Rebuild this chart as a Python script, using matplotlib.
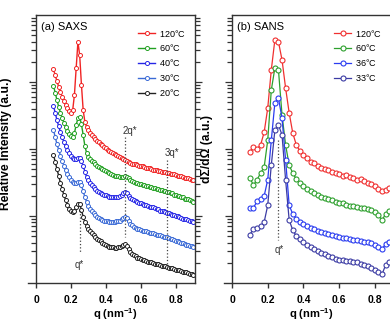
import numpy as np
import matplotlib
matplotlib.use("Agg")
import matplotlib.pyplot as plt
from matplotlib.ticker import LogLocator, NullFormatter, FixedLocator

plt.rcParams['font.family'] = ['Liberation Sans', 'DejaVu Sans']
plt.rcParams['mathtext.fontset'] = 'custom'
plt.rcParams['mathtext.rm'] = 'Liberation Sans'
plt.rcParams['mathtext.bf'] = 'Liberation Sans:bold'

# ---- SAXS data (log10 of relative intensity, a.u.) ----
q_saxs = [0.10, 0.11, 0.12, 0.13, 0.14, 0.15, 0.16, 0.17, 0.18, 0.19,
          0.20, 0.21, 0.22, 0.23, 0.24, 0.25, 0.26, 0.27, 0.28, 0.29,
          0.30, 0.31, 0.32, 0.33, 0.34, 0.35, 0.36, 0.37, 0.38, 0.39,
          0.40, 0.41, 0.42, 0.43, 0.44, 0.45, 0.46, 0.47, 0.48, 0.49,
          0.50, 0.51, 0.52, 0.53, 0.54, 0.55, 0.56, 0.57, 0.58, 0.59,
          0.60, 0.61, 0.62, 0.63, 0.64, 0.65, 0.66, 0.67, 0.68, 0.69,
          0.70, 0.71, 0.72, 0.73, 0.74, 0.75, 0.76, 0.77, 0.78, 0.79,
          0.80, 0.81, 0.82, 0.83, 0.84, 0.85, 0.86, 0.87, 0.88, 0.89, 0.90]
saxs_120 = [3.19, 3.10, 3.01, 2.93, 2.85, 2.78, 2.72, 2.66, 2.61, 2.57,
            2.54, 2.58, 2.81, 3.21, 3.60, 3.40, 2.96, 2.58, 2.40, 2.33,
            2.28, 2.24, 2.21, 2.18, 2.15, 2.12, 2.10, 2.08, 2.06, 2.03,
            2.01, 1.99, 1.97, 1.95, 1.94, 1.92, 1.91, 1.89, 1.88, 1.86,
            1.85, 1.84, 1.82, 1.81, 1.79, 1.78, 1.78, 1.77, 1.76, 1.75,
            1.75, 1.74, 1.73, 1.72, 1.72, 1.71, 1.70, 1.69, 1.69, 1.68,
            1.67, 1.67, 1.66, 1.66, 1.65, 1.64, 1.64, 1.63, 1.63, 1.62,
            1.61, 1.60, 1.60, 1.59, 1.58, 1.57, 1.57, 1.56, 1.55, 1.54, 1.54]
saxs_60 = [2.94, 2.84, 2.73, 2.63, 2.54, 2.46, 2.39, 2.33, 2.27, 2.22,
           2.19, 2.18, 2.24, 2.36, 2.46, 2.48, 2.37, 2.21, 2.04, 1.94,
           1.88, 1.85, 1.82, 1.80, 1.78, 1.75, 1.73, 1.71, 1.70, 1.68,
           1.67, 1.65, 1.64, 1.62, 1.61, 1.60, 1.60, 1.59, 1.58, 1.58,
           1.58, 1.59, 1.58, 1.56, 1.54, 1.52, 1.51, 1.50, 1.49, 1.48,
           1.48, 1.47, 1.46, 1.45, 1.45, 1.44, 1.43, 1.42, 1.42, 1.41,
           1.40, 1.39, 1.39, 1.38, 1.37, 1.36, 1.36, 1.35, 1.34, 1.32,
           1.31, 1.30, 1.30, 1.29, 1.28, 1.26, 1.25, 1.25, 1.24, 1.22, 1.21]
saxs_40 = [2.64, 2.54, 2.43, 2.34, 2.25, 2.18, 2.10, 2.04, 1.99, 1.94,
           1.90, 1.87, 1.85, 1.85, 1.87, 1.87, 1.82, 1.75, 1.66, 1.58,
           1.54, 1.50, 1.46, 1.43, 1.40, 1.38, 1.36, 1.34, 1.33, 1.32,
           1.31, 1.30, 1.29, 1.28, 1.28, 1.28, 1.28, 1.29, 1.30, 1.32,
           1.34, 1.36, 1.34, 1.30, 1.27, 1.25, 1.24, 1.22, 1.21, 1.20,
           1.19, 1.18, 1.17, 1.16, 1.15, 1.14, 1.13, 1.13, 1.12, 1.11,
           1.10, 1.08, 1.07, 1.07, 1.06, 1.05, 1.04, 1.03, 1.02, 1.01,
           1.00, 1.00, 0.99, 0.97, 0.96, 0.96, 0.95, 0.94, 0.93, 0.92, 0.91]
saxs_30 = [2.28, 2.18, 2.07, 1.99, 1.90, 1.82, 1.75, 1.69, 1.63, 1.58,
           1.54, 1.51, 1.49, 1.49, 1.51, 1.51, 1.46, 1.37, 1.28, 1.21,
           1.15, 1.11, 1.07, 1.04, 1.01, 0.99, 0.97, 0.95, 0.94, 0.93,
           0.93, 0.92, 0.91, 0.91, 0.91, 0.91, 0.92, 0.92, 0.93, 0.95,
           0.97, 0.99, 0.97, 0.93, 0.88, 0.86, 0.84, 0.82, 0.81, 0.80,
           0.79, 0.78, 0.78, 0.77, 0.76, 0.75, 0.75, 0.74, 0.73, 0.72,
           0.72, 0.71, 0.70, 0.69, 0.69, 0.68, 0.67, 0.66, 0.65, 0.64,
           0.63, 0.62, 0.61, 0.60, 0.59, 0.58, 0.57, 0.56, 0.55, 0.55, 0.54]
saxs_20 = [1.91, 1.81, 1.70, 1.60, 1.49, 1.40, 1.31, 1.24, 1.16, 1.10,
           1.07, 1.06, 1.07, 1.13, 1.18, 1.18, 1.09, 0.99, 0.91, 0.85,
           0.81, 0.78, 0.75, 0.72, 0.69, 0.66, 0.64, 0.62, 0.60, 0.58,
           0.57, 0.55, 0.54, 0.53, 0.53, 0.52, 0.52, 0.53, 0.54, 0.55,
           0.57, 0.58, 0.55, 0.51, 0.46, 0.44, 0.42, 0.40, 0.38, 0.37,
           0.36, 0.35, 0.34, 0.33, 0.32, 0.31, 0.31, 0.30, 0.29, 0.28,
           0.28, 0.27, 0.26, 0.25, 0.25, 0.24, 0.23, 0.22, 0.22, 0.21,
           0.20, 0.19, 0.19, 0.18, 0.17, 0.16, 0.16, 0.15, 0.14, 0.13, 0.12]

# ---- SANS data (log10 of dSigma/dOmega, a.u.) ----
q_sans = [0.10, 0.12, 0.14, 0.16, 0.18, 0.20, 0.22, 0.24, 0.26, 0.28, 0.30,
          0.32, 0.34, 0.36, 0.38, 0.40, 0.42, 0.44, 0.46, 0.48, 0.50,
          0.52, 0.54, 0.56, 0.58, 0.60, 0.62, 0.64, 0.66, 0.68, 0.70,
          0.72, 0.74, 0.76, 0.78, 0.80, 0.82, 0.84, 0.86, 0.88, 0.90]
sans_120 = [1.96, 2.03, 2.00, 2.06, 2.25, 2.61, 3.18, 3.63, 3.60, 3.33, 2.91,
            2.54, 2.24, 2.06, 1.97, 1.91, 1.87, 1.81, 1.79, 1.75, 1.72,
            1.70, 1.69, 1.66, 1.64, 1.63, 1.60, 1.61, 1.58, 1.57, 1.54,
            1.55, 1.52, 1.49, 1.48, 1.45, 1.40, 1.37, 1.39, 1.42, 1.45]
sans_60 = [1.57, 1.46, 1.54, 1.64, 1.73, 2.13, 2.88, 3.21, 3.18, 2.51, 2.06,
           1.76, 1.64, 1.55, 1.49, 1.45, 1.40, 1.37, 1.34, 1.31, 1.28,
           1.27, 1.25, 1.24, 1.21, 1.19, 1.19, 1.16, 1.15, 1.15, 1.13,
           1.12, 1.12, 1.10, 1.09, 1.06, 1.01, 0.94, 1.03, 1.07, 1.10]
sans_36 = [1.12, 1.12, 1.22, 1.25, 1.30, 1.54, 2.13, 2.69, 2.76, 2.46, 1.84,
           1.16, 1.03, 0.96, 0.91, 0.88, 0.85, 0.82, 0.81, 0.78, 0.76,
           0.75, 0.73, 0.72, 0.70, 0.69, 0.67, 0.67, 0.66, 0.64, 0.64,
           0.63, 0.61, 0.61, 0.60, 0.57, 0.54, 0.51, 0.58, 0.61, 0.63]
sans_33 = [0.72, 0.81, 0.82, 0.85, 0.91, 1.16, 1.76, 2.28, 2.36, 2.21, 1.54,
           0.94, 0.79, 0.70, 0.66, 0.61, 0.57, 0.54, 0.51, 0.48, 0.45,
           0.43, 0.40, 0.39, 0.36, 0.34, 0.34, 0.33, 0.33, 0.31, 0.31,
           0.28, 0.27, 0.25, 0.22, 0.19, 0.16, 0.13, 0.27, 0.31, 0.34]

saxs_series = [("120$\\degree$C", saxs_120, '#f02424'),
               ("60$\\degree$C", saxs_60, '#22a022'),
               ("40$\\degree$C", saxs_40, '#2626e6'),
               ("30$\\degree$C", saxs_30, '#3a6ad6'),
               ("20$\\degree$C", saxs_20, '#222222')]
sans_series = [("120$\\degree$C", sans_120, '#f03030'),
               ("60$\\degree$C", sans_60, '#2ea02e'),
               ("36$\\degree$C", sans_36, '#2a3cf0'),
               ("33$\\degree$C", sans_33, '#3c3ca4')]

fig = plt.figure(figsize=(3.9, 3.22), dpi=100)
ax1 = fig.add_axes([36 / 390, 1 - 283 / 322, 159 / 390, 268 / 322])
ax2 = fig.add_axes([232 / 390, 1 - 283 / 322, 159 / 390, 268 / 322])


def style_axis(ax, xmax):
    ax.set_yscale('log')
    ax.set_ylim(1, 1e4)
    ax.set_xlim(0, xmax)
    ax.yaxis.set_major_locator(FixedLocator([10, 100, 1000]))
    ax.yaxis.set_minor_locator(LogLocator(base=10, subs=np.arange(2, 10)))
    ax.yaxis.set_major_formatter(NullFormatter())
    ax.yaxis.set_minor_formatter(NullFormatter())
    ax.set_xticks([0, 0.2, 0.4, 0.6, 0.8])
    ax.set_xticklabels(['0', '0.2', '0.4', '0.6', '0.8'], fontsize=7.5,
                       fontweight='bold')
    ax.tick_params(axis='y', which='both', direction='out', left=True,
                   right=True, width=0.9, color='#333333')
    ax.tick_params(axis='y', which='major', length=5)
    ax.tick_params(axis='y', which='minor', length=3.5)
    ax.tick_params(axis='x', which='major', direction='out', length=3.5,
                   width=1.0, pad=5, color='#333333')
    for s in ax.spines.values():
        s.set_linewidth(1.0)
        s.set_color('#333333')
    ax.spines['bottom'].set_bounds(-0.045, xmax)
    ax.set_xlabel('q (nm$^{\\mathbf{-1}}$)', fontsize=8, fontweight='bold',
                  labelpad=1)


style_axis(ax1, 0.91)
style_axis(ax2, 0.89)

for lab, vals, col in saxs_series:
    ax1.plot(q_saxs, 10 ** np.array(vals), '-o', color=col, lw=1.0,
             ms=2.9, mfc='white', mec=col, mew=0.7, label=lab, clip_on=False)

for lab, vals, col in sans_series:
    ax2.plot(q_sans, 10 ** np.array(vals), '-o', color=col, lw=0.9,
             ms=3.6, mfc='white', mec=col, mew=0.8, label=lab, clip_on=True)

# peak position guides
dot = dict(color='#444444', lw=0.9, ls=':')
ax1.plot([0.25, 0.25], [10 ** 1.13, 10 ** 0.45], **dot)
ax1.plot([0.51, 0.51], [10 ** 2.18, 10 ** 0.69], **dot)
ax1.plot([0.75, 0.75], [10 ** 1.84, 10 ** 0.24], **dot)
ax1.text(0.25, 10 ** 0.27, 'q*', fontsize=7, ha='center', va='center',
         color='#333333')
ax1.text(0.535, 10 ** 2.27, '2q*', fontsize=7, ha='center', va='center',
         color='#333333')
ax1.text(0.78, 10 ** 1.94, '3q*', fontsize=7, ha='center', va='center',
         color='#333333')
ax2.plot([0.258, 0.258], [10 ** 2.13, 10 ** 0.64], **dot)
ax2.text(0.264, 10 ** 0.49, 'q*', fontsize=7, ha='center', va='center',
         color='#333333')

ax1.text(0.03, 0.975, '(a) SAXS', transform=ax1.transAxes, fontsize=8,
         va='top', ha='left')
ax2.text(0.03, 0.975, '(b) SANS', transform=ax2.transAxes, fontsize=8,
         va='top', ha='left')

for ax in (ax1, ax2):
    ax.legend(loc='upper left', bbox_to_anchor=(0.63, 0.96), frameon=False,
              fontsize=6.5, handlelength=1.9, handletextpad=0.45,
              labelspacing=0.42, borderaxespad=0, borderpad=0.2,
              numpoints=1)

ax1.set_ylabel('Relative Intensity (a.u.)', fontsize=8.7, fontweight='bold')
ax1.yaxis.set_label_coords(-0.15, 0.52)
ax2.set_ylabel('d\u03a3/d\u03a9 (a.u.)', fontsize=8.7, fontweight='bold')
ax2.yaxis.set_label_coords(-0.12, 0.5)

fig.savefig('out.png', dpi=100)
